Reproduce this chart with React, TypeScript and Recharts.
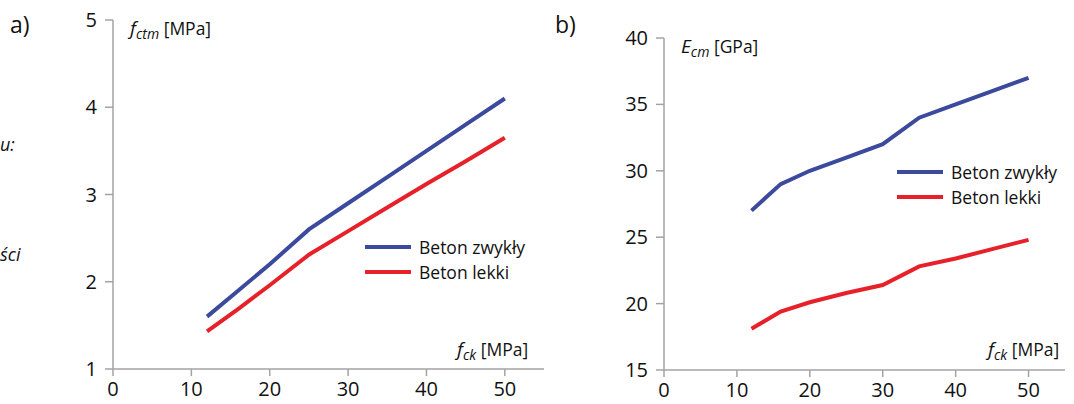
import React from "react"
import { Line, LineChart, XAxis, YAxis } from "recharts"

const fck = [12, 16, 20, 25, 30, 35, 40, 45, 50]
const fctmNormal = [1.6, 1.9, 2.2, 2.6, 2.9, 3.2, 3.5, 3.8, 4.1]
const fctmLight = [1.43, 1.69, 1.96, 2.31, 2.58, 2.85, 3.12, 3.38, 3.65]
const ecmNormal = [27, 29, 30, 31, 32, 34, 35, 36, 37]
const ecmLight = [18.1, 19.4, 20.1, 20.8, 21.4, 22.8, 23.4, 24.1, 24.8]

const xTicks = [0, 10, 20, 30, 40, 50]
const yTicksA = [1, 2, 3, 4, 5]
const yTicksB = [15, 20, 25, 30, 35, 40]

const seriesNames = ["Beton zwykły", "Beton lekki"]

const BLUE = "#3b4a9c"
const RED = "#e62129"
const GREY = "#a3a3a3"
const FONT = "'Open Sans', 'Noto Sans', sans-serif"

const rowsA = fck.map((x, i) => ({ x, normal: fctmNormal[i], light: fctmLight[i] }))
const rowsB = fck.map((x, i) => ({ x, normal: ecmNormal[i], light: ecmLight[i] }))

function XTick(props: any) {
  const { x, y, payload } = props
  return (
    <text x={x} y={y + 18} textAnchor="middle" fill="#111" fontSize={20} fontFamily={FONT}>
      {payload.value}
    </text>
  )
}

function YTick(props: any) {
  const { x, y, payload } = props
  return (
    <text x={x - 6} y={y + 7} textAnchor="end" fill="#111" fontSize={20} fontFamily={FONT}>
      {payload.value}
    </text>
  )
}

function LegendBox(props: { left: number; top: number }) {
  const items = [
    { name: seriesNames[0], color: BLUE },
    { name: seriesNames[1], color: RED },
  ]
  return (
    <div style={{ position: "absolute", left: props.left, top: props.top, fontFamily: FONT, fontSize: 17.5, color: "#111" }}>
      {items.map((it) => (
        <div key={it.name} style={{ display: "flex", alignItems: "center", height: 25, whiteSpace: "nowrap" }}>
          <span style={{ display: "inline-block", width: 46, height: 4, background: it.color, marginRight: 8 }} />
          <span>{it.name}</span>
        </div>
      ))}
    </div>
  )
}

function Panel(props: {
  rows: { x: number; normal: number; light: number }[]
  width: number
  yWidth: number
  top: number
  right: number
  bottom: number
  domain: [number, number]
  ticks: number[]
}) {
  return (
    <LineChart
      width={props.width}
      height={404}
      data={props.rows}
      margin={{ top: props.top, right: props.right, bottom: props.bottom, left: 0 }}
    >
      <XAxis
        dataKey="x"
        type="number"
        domain={[0, 55]}
        ticks={xTicks}
        height={30}
        stroke={GREY}
        strokeWidth={1.5}
        tickSize={7}
        tick={<XTick />}
      />
      <YAxis
        type="number"
        domain={props.domain}
        ticks={props.ticks}
        width={props.yWidth}
        stroke={GREY}
        strokeWidth={1.5}
        tickSize={8}
        tick={<YTick />}
        interval={0}
      />
      <Line dataKey="normal" stroke={BLUE} strokeWidth={4} dot={false} isAnimationActive={false} />
      <Line dataKey="light" stroke={RED} strokeWidth={4} dot={false} isAnimationActive={false} />
    </LineChart>
  )
}

const abs = (left: number, top: number, extra: React.CSSProperties = {}): React.CSSProperties => ({
  position: "absolute",
  left,
  top,
  fontFamily: FONT,
  color: "#111",
  whiteSpace: "nowrap",
  ...extra,
})

function AxisTitle(props: { left: number; top: number; main: string; sub: string; unit: string }) {
  return (
    <div style={abs(props.left, props.top, { fontSize: 17.5 })}>
      <i style={{ fontSize: 19 }}>{props.main}</i>
      <i style={{ fontSize: 14, position: "relative", top: 4 }}>{props.sub}</i> {props.unit}
    </div>
  )
}

export default function App() {
  return (
    <div style={{ position: "absolute", left: 0, top: 0, width: 1074, height: 404, background: "#fff", overflow: "hidden" }}>
      <div style={{ position: "absolute", left: 0, top: 0 }}>
        <Panel rows={rowsA} width={560} yWidth={113} top={20} right={16} bottom={5} domain={[1, 5]} ticks={yTicksA} />
      </div>
      <div style={{ position: "absolute", left: 560, top: 0 }}>
        <Panel rows={rowsB} width={514} yWidth={104} top={38} right={9} bottom={4} domain={[15, 40]} ticks={yTicksB} />
      </div>

      <LegendBox left={365} top={234} />
      <LegendBox left={897} top={159} />

      <div style={abs(10, 8, { fontSize: 23 })}>a)</div>
      <div style={abs(555, 8, { fontSize: 23 })}>b)</div>
      <div style={abs(0, 132, { fontSize: 18, fontStyle: "italic" })}>u:</div>
      <div style={abs(0, 242, { fontSize: 18, fontStyle: "italic" })}>ści</div>

      <AxisTitle left={457} top={336} main="f" sub="ck" unit="[MPa]" />
      <AxisTitle left={130} top={15} main="f" sub="ctm" unit="[MPa]" />
      <AxisTitle left={681} top={33} main="E" sub="cm" unit="[GPa]" />
      <AxisTitle left={988} top={336} main="f" sub="ck" unit="[MPa]" />
    </div>
  )
}
